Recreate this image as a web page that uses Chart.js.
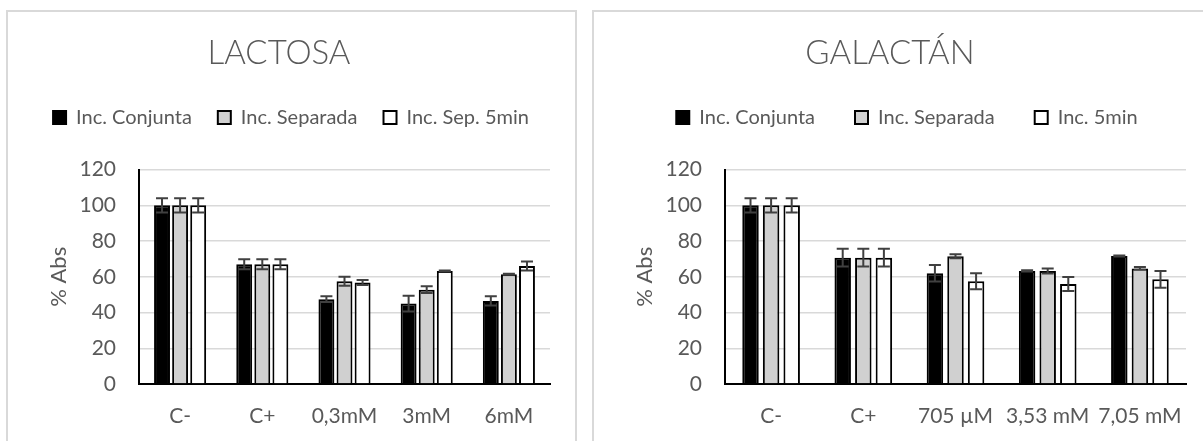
<!DOCTYPE html>
<html>
<head>
<meta charset="utf-8">
<script src="https://cdn.jsdelivr.net/npm/chart.js@4.4.1/dist/chart.umd.min.js"></script>
<style>
  body { margin: 0; background: #fff; width: 1203px; height: 441px; overflow: hidden; position: relative; }
  .box { position: absolute; top: 10px; border: 2px solid #d9d9d9; background: #fff; }
  #boxL { left: 6px; width: 567px; height: 440px; }
  #boxR { left: 592px; width: 620px; height: 440px; }
  canvas { display: block; }
</style>
</head>
<body>
<div class="box" id="boxL"><canvas id="chartL" width="567" height="429"></canvas></div>
<div class="box" id="boxR"><canvas id="chartR" width="620" height="429"></canvas></div>
<script>
const lactosaLabels = ['C-', 'C+', '0,3mM', '3mM', '6mM'];
const lactosaConjunta = [100, 67, 47.5, 45, 46.5];
const lactosaConjuntaErr = [4, 2.8, 1.6, 4.4, 2.6];
const lactosaSeparada = [100, 67, 57.5, 52.8, 61.4];
const lactosaSeparadaErr = [4, 2.8, 2.5, 1.9, 0.3];
const lactosaSep5 = [100, 67, 56.8, 63.2, 66];
const lactosaSep5Err = [4, 2.8, 1.4, 0.3, 2.5];

const galactanLabels = ['C-', 'C+', '705 µM', '3,53 mM', '7,05 mM'];
const galactanConjunta = [100, 70.7, 62, 63.3, 71.6];
const galactanConjuntaErr = [4, 5, 4.6, 0.3, 0.3];
const galactanSeparada = [100, 70.7, 71.5, 63.2, 64.7];
const galactanSeparadaErr = [4, 5, 1.1, 1.4, 0.8];
const galactan5min = [100, 70.7, 57.5, 56, 58.6];
const galactan5minErr = [4, 5, 4.5, 3.9, 4.7];

const yTicks = [0, 20, 40, 60, 80, 100, 120];

const FONT = 'Lato, "Open Sans", sans-serif';
const TEXT = '#595959';

// draws the error bars from each dataset's "errors" array
const errorBars = {
  id: 'errorBars',
  afterDatasetsDraw(chart) {
    const ctx = chart.ctx;
    const y = chart.scales.y;
    chart.data.datasets.forEach((ds, i) => {
      const meta = chart.getDatasetMeta(i);
      meta.data.forEach((bar, j) => {
        const v = ds.data[j], e = ds.errors[j];
        const top = y.getPixelForValue(v + e);
        const bot = y.getPixelForValue(v - e);
        ctx.save();
        ctx.strokeStyle = '#404040';
        ctx.lineWidth = 2;
        ctx.beginPath();
        ctx.moveTo(bar.x, top); ctx.lineTo(bar.x, bot);
        ctx.moveTo(bar.x - 6, top); ctx.lineTo(bar.x + 6, top);
        ctx.moveTo(bar.x - 6, bot); ctx.lineTo(bar.x + 6, bot);
        ctx.stroke();
        ctx.restore();
      });
    });
  }
};

function makeChart(id, title, labels, series, names, opts) {
  const fills = ['#000000', '#d0d0d0', '#ffffff'];
  // fixed legend block height, then nudge the legend like Excel places it
  const legendPlace = {
    id: 'legendPlace',
    beforeInit(chart) {
      const fit = chart.legend.fit;
      chart.legend.fit = function () {
        fit.bind(chart.legend)();
        this.height = 96;
      };
    },
    afterLayout(chart) {
      const lg = chart.legend;
      lg.left += opts.dx; lg.right += opts.dx;
      lg.top += opts.dy; lg.bottom += opts.dy;
    }
  };
  return new Chart(document.getElementById(id), {
    type: 'bar',
    data: {
      labels: labels,
      datasets: series.map((s, i) => ({
        label: names[i],
        data: s[0],
        errors: s[1],
        backgroundColor: fills[i],
        borderColor: '#000000',
        borderWidth: 2,
        categoryPercentage: opts.catPct,
        barPercentage: opts.barPct
      }))
    },
    options: {
      responsive: false,
      animation: false,
      layout: { padding: { left: 0, right: opts.padRight, top: 0, bottom: 0 } },
      plugins: {
        title: {
          display: true,
          text: title,
          color: TEXT,
          font: { family: FONT, size: 33, weight: '300' },
          padding: { top: 22, bottom: 0 }
        },
        legend: {
          position: 'top',
          labels: {
            color: TEXT,
            font: { family: FONT, size: 20 },
            boxWidth: 13,
            boxHeight: 13,
            padding: opts.legendPad
          }
        },
        tooltip: { enabled: false }
      },
      scales: {
        x: {
          grid: { display: false, drawTicks: false },
          border: { color: '#000', width: 2 },
          ticks: { color: TEXT, font: { family: FONT, size: 21 }, padding: 20, maxRotation: 0 },
          afterFit(s) { s.height = 57; }
        },
        y: {
          min: 0,
          max: 120,
          afterBuildTicks(s) { s.ticks = yTicks.map(v => ({ value: v })); },
          grid: { color: '#d9d9d9', lineWidth: 1.5, drawTicks: false },
          border: { color: '#000', width: 2 },
          ticks: { color: TEXT, font: { family: FONT, size: 21 }, padding: 23 },
          title: {
            display: true,
            text: '% Abs',
            color: TEXT,
            font: { family: FONT, size: 22 },
            padding: { top: 38, bottom: 0 }
          },
          afterFit(s) { s.width = 131; }
        }
      }
    },
    plugins: [errorBars, legendPlace]
  });
}

makeChart('chartL', 'LACTOSA', lactosaLabels,
  [[lactosaConjunta, lactosaConjuntaErr], [lactosaSeparada, lactosaSeparadaErr], [lactosaSep5, lactosaSep5Err]],
  ['Inc. Conjunta', 'Inc. Separada', 'Inc. Sep. 5min'],
  { catPct: 0.66, barPct: 0.88, padRight: 25, legendPad: 26, dx: 12, dy: 8 });

makeChart('chartR', 'GALACTÁN', galactanLabels,
  [[galactanConjunta, galactanConjuntaErr], [galactanSeparada, galactanSeparadaErr], [galactan5min, galactan5minErr]],
  ['Inc. Conjunta', 'Inc. Separada', 'Inc. 5min'],
  { catPct: 0.67, barPct: 0.8, padRight: 28, legendPad: 40, dx: 17, dy: -6 });
</script>
</body>
</html>
